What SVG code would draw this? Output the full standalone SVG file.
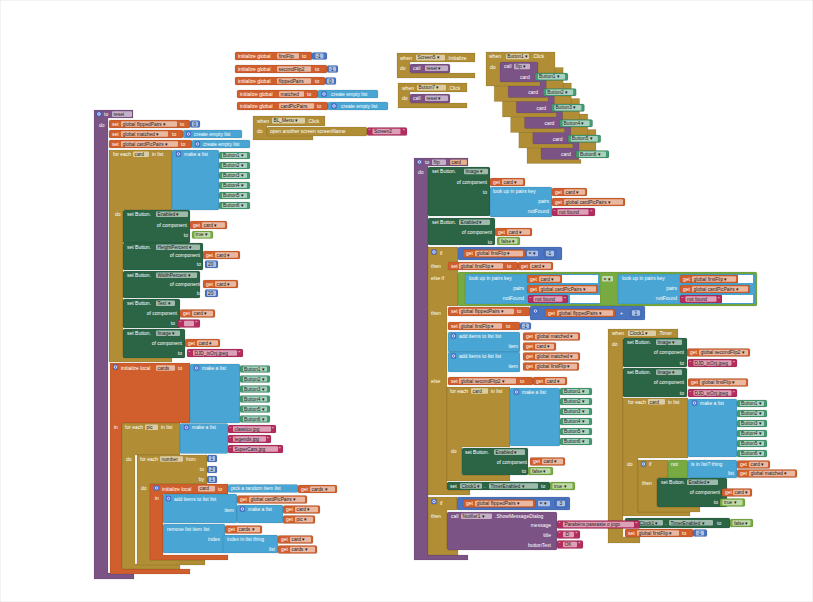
<svg xmlns="http://www.w3.org/2000/svg" width="813" height="602" viewBox="0 0 813 602">
<style>
text{font-family:"Liberation Sans",Arial,sans-serif;font-size:5px;fill:#fff}
.k{fill:#1a1a1a;font-size:4.8px}
rect,path{stroke:#000;stroke-opacity:.2;stroke-width:.5}
.p{fill:#7c5385}
.g{fill:#b18e35}
.o{fill:#d05f2d}
.l{fill:#49a6d4}
.d{fill:#2b6546}
.c{fill:#439970}
.n{fill:#77ab41}
.t{fill:#b32d5e}
.m{fill:#4a74c0}
.f{fill:#fff;fill-opacity:.55;stroke:none}
.wh{fill:#fff;stroke:none}
.e{text-anchor:end}
</style>
<defs>
<g id="gear"><rect x="0" y="0" width="5" height="5" rx="1" fill="#4d6fd6" stroke="none"/><circle cx="2.5" cy="2.5" r="1.3" fill="none" stroke="#fff" stroke-width=".7"/></g>
</defs>
<rect x="0" y="0" width="813" height="602" fill="#fff" stroke="none"/>
<g id="connectors"/>

<g id="global-firstFlip">
<rect class="o" x="235" y="52" width="77" height="8" rx="1.5"/>
<text x="238" y="57.8">initialize global</text>
<rect class="f" x="277" y="53.2" width="22" height="5.6" rx="1"/><text class="k" x="278.5" y="57.8">firstFlip</text>
<text x="302" y="57.8">to</text>
<rect class="m" x="312" y="52.5" width="15" height="7" rx="1.5"/><rect class="f" x="315.5" y="53.5" width="8" height="5" rx="1"/><text class="k" x="316.5" y="57.5">-1</text>
</g>
<g id="global-secondFlip2">
<rect class="o" x="235" y="65" width="92" height="8" rx="1.5"/>
<text x="238" y="70.8">initialize global</text>
<rect class="f" x="277" y="66.2" width="34" height="5.6" rx="1"/><text class="k" x="278.5" y="70.8">secondFlip2</text>
<text x="315" y="70.8">to</text>
<rect class="m" x="327" y="65.5" width="11" height="7" rx="1.5"/><rect class="f" x="329" y="66.5" width="7" height="5" rx="1"/><text class="k" x="329.5" y="70.5">-1</text>
</g>
<g id="global-flippedPairs">
<rect class="o" x="235" y="77" width="90" height="8" rx="1.5"/>
<text x="238" y="82.8">initialize global</text>
<rect class="f" x="277" y="78.2" width="34" height="5.6" rx="1"/><text class="k" x="278.5" y="82.8">flippedPairs</text>
<text x="315" y="82.8">to</text>
<rect class="m" x="325" y="77.5" width="11" height="7" rx="1.5"/><rect class="f" x="327" y="78.5" width="7" height="5" rx="1"/><text class="k" x="329" y="82.5">0</text>
</g>
<g id="global-matched">
<rect class="o" x="237" y="90" width="81" height="8" rx="1.5"/>
<text x="240" y="95.8">initialize global</text>
<rect class="f" x="279" y="91.2" width="25" height="5.6" rx="1"/><text class="k" x="280.5" y="95.8">matched</text>
<text x="307" y="95.8">to</text>
<rect class="l" x="318" y="90" width="60" height="8" rx="1.5"/><use href="#gear" x="321.5" y="91.5"/>
<text x="331" y="95.8">create empty list</text>
</g>
<g id="global-cardPicPairs">
<rect class="o" x="237" y="102" width="91" height="8" rx="1.5"/>
<text x="240" y="107.8">initialize global</text>
<rect class="f" x="279" y="103.2" width="35" height="5.6" rx="1"/><text class="k" x="280.5" y="107.8">cardPicPairs</text>
<text x="317" y="107.8">to</text>
<rect class="l" x="328" y="102" width="60" height="8" rx="1.5"/><use href="#gear" x="331.5" y="103.5"/>
<text x="341" y="107.8">create empty list</text>
</g>

<g id="bl-menu-click">
<path class="g" d="M253 116H325V126H267V135H313V140H253Z"/>
<text x="257" y="122.5">when</text>
<rect class="f" x="272" y="117.8" width="33" height="5.6" rx="1"/><text class="k" x="273.5" y="122.4">BL_Menu ▾</text>
<text x="307" y="122.5">.Click</text>
<text x="257" y="133">do</text>
<rect x="267" y="127" width="100" height="9" rx="1.5" fill="#b18e35" stroke="#e2c882" stroke-opacity="1"/>
<text x="270" y="133">open another screen  screenName</text>
<rect class="t" x="367" y="127.5" width="40" height="8" rx="1.5"/><text x="368.5" y="133.3">“</text>
<rect class="f" x="372.5" y="128.7" width="28" height="5.6" rx="1"/><text class="k" x="374" y="133.3">Screen2</text><text x="403" y="133.3">”</text>
</g>

<g id="screen5-initialize">
<path class="g" d="M397 53H475V62H410V73H475V78H397Z"/>
<text x="400" y="59.5">when</text>
<rect class="f" x="416" y="54.8" width="29" height="5.6" rx="1"/><text class="k" x="417.5" y="59.4">Screen5 ▾</text>
<text x="447" y="59.5">.Initialize</text>
<text x="400" y="70">do</text>
<rect class="p" x="410" y="64" width="40" height="9" rx="1.5"/>
<text x="413" y="70">call</text>
<rect class="f" x="425" y="65.5" width="23" height="5.6" rx="1"/><text class="k" x="426.5" y="70">reset ▾</text>
</g>

<g id="button7-click">
<path class="g" d="M398 83H467V92H410V103H467V108H398Z"/>
<text x="402" y="89.5">when</text>
<rect class="f" x="417" y="84.8" width="29" height="5.6" rx="1"/><text class="k" x="418.5" y="89.4">Button7 ▾</text>
<text x="448" y="89.5">.Click</text>
<text x="402" y="100">do</text>
<rect class="p" x="410" y="94" width="40" height="9" rx="1.5"/>
<text x="413" y="100">call</text>
<rect class="f" x="425" y="95.5" width="23" height="5.6" rx="1"/><text class="k" x="426.5" y="100">reset ▾</text>
</g>

<g id="button6-click" transform="translate(527,129.5)">
<path class="g" d="M0 0H69V25H52V30H54V34H0Z"/>
<text x="3" y="6.3">when</text><rect class="f" x="20" y="1.7" width="23" height="5.6" rx="1"/><text class="k" x="21.2" y="6.3">Button6 ▾</text><text x="46" y="6.3">.Click</text>
<text x="4" y="16.5">do</text>
<rect class="p" x="14" y="10" width="38" height="20" rx="1.5"/>
<text x="18" y="16.3">call</text><rect class="f" x="28" y="11.7" width="16" height="5.6" rx="1"/><text class="k" x="29.5" y="16.3">flip ▾</text>
<text x="34" y="26.8">card</text>
<rect class="c" x="49" y="21" width="33" height="7.5" rx="1.5"/><rect class="f" x="52" y="22" width="27" height="5.5" rx="1"/><text class="k" x="53" y="26.3">Button6 ▾</text>
</g>
<g id="button5-click" transform="translate(518.8,114)">
<path class="g" d="M0 0H69V25H52V30H54V34H0Z"/>
<text x="3" y="6.3">when</text><rect class="f" x="20" y="1.7" width="23" height="5.6" rx="1"/><text class="k" x="21.2" y="6.3">Button5 ▾</text><text x="46" y="6.3">.Click</text>
<text x="4" y="16.5">do</text>
<rect class="p" x="14" y="10" width="38" height="20" rx="1.5"/>
<text x="18" y="16.3">call</text><rect class="f" x="28" y="11.7" width="16" height="5.6" rx="1"/><text class="k" x="29.5" y="16.3">flip ▾</text>
<text x="34" y="26.8">card</text>
<rect class="c" x="49" y="21" width="33" height="7.5" rx="1.5"/><rect class="f" x="52" y="22" width="27" height="5.5" rx="1"/><text class="k" x="53" y="26.3">Button5 ▾</text>
</g>
<g id="button4-click" transform="translate(510.6,98.5)">
<path class="g" d="M0 0H69V25H52V30H54V34H0Z"/>
<text x="3" y="6.3">when</text><rect class="f" x="20" y="1.7" width="23" height="5.6" rx="1"/><text class="k" x="21.2" y="6.3">Button4 ▾</text><text x="46" y="6.3">.Click</text>
<text x="4" y="16.5">do</text>
<rect class="p" x="14" y="10" width="38" height="20" rx="1.5"/>
<text x="18" y="16.3">call</text><rect class="f" x="28" y="11.7" width="16" height="5.6" rx="1"/><text class="k" x="29.5" y="16.3">flip ▾</text>
<text x="34" y="26.8">card</text>
<rect class="c" x="49" y="21" width="33" height="7.5" rx="1.5"/><rect class="f" x="52" y="22" width="27" height="5.5" rx="1"/><text class="k" x="53" y="26.3">Button4 ▾</text>
</g>
<g id="button3-click" transform="translate(502.4,83)">
<path class="g" d="M0 0H69V25H52V30H54V34H0Z"/>
<text x="3" y="6.3">when</text><rect class="f" x="20" y="1.7" width="23" height="5.6" rx="1"/><text class="k" x="21.2" y="6.3">Button3 ▾</text><text x="46" y="6.3">.Click</text>
<text x="4" y="16.5">do</text>
<rect class="p" x="14" y="10" width="38" height="20" rx="1.5"/>
<text x="18" y="16.3">call</text><rect class="f" x="28" y="11.7" width="16" height="5.6" rx="1"/><text class="k" x="29.5" y="16.3">flip ▾</text>
<text x="34" y="26.8">card</text>
<rect class="c" x="49" y="21" width="33" height="7.5" rx="1.5"/><rect class="f" x="52" y="22" width="27" height="5.5" rx="1"/><text class="k" x="53" y="26.3">Button3 ▾</text>
</g>
<g id="button2-click" transform="translate(494.2,67.5)">
<path class="g" d="M0 0H69V25H52V30H54V34H0Z"/>
<text x="3" y="6.3">when</text><rect class="f" x="20" y="1.7" width="23" height="5.6" rx="1"/><text class="k" x="21.2" y="6.3">Button2 ▾</text><text x="46" y="6.3">.Click</text>
<text x="4" y="16.5">do</text>
<rect class="p" x="14" y="10" width="38" height="20" rx="1.5"/>
<text x="18" y="16.3">call</text><rect class="f" x="28" y="11.7" width="16" height="5.6" rx="1"/><text class="k" x="29.5" y="16.3">flip ▾</text>
<text x="34" y="26.8">card</text>
<rect class="c" x="49" y="21" width="33" height="7.5" rx="1.5"/><rect class="f" x="52" y="22" width="27" height="5.5" rx="1"/><text class="k" x="53" y="26.3">Button2 ▾</text>
</g>
<g id="button1-click" transform="translate(486,52)">
<path class="g" d="M0 0H69V25H52V30H54V34H0Z"/>
<text x="3" y="6.3">when</text><rect class="f" x="20" y="1.7" width="23" height="5.6" rx="1"/><text class="k" x="21.2" y="6.3">Button1 ▾</text><text x="46" y="6.3">.Click</text>
<text x="4" y="16.5">do</text>
<rect class="p" x="14" y="10" width="38" height="20" rx="1.5"/>
<text x="18" y="16.3">call</text><rect class="f" x="28" y="11.7" width="16" height="5.6" rx="1"/><text class="k" x="29.5" y="16.3">flip ▾</text>
<text x="34" y="26.8">card</text>
<rect class="c" x="49" y="21" width="33" height="7.5" rx="1.5"/><rect class="f" x="52" y="22" width="27" height="5.5" rx="1"/><text class="k" x="53" y="26.3">Button1 ▾</text>
</g>

<g id="proc-reset">
<path class="p" d="M94 110H133V118H108V573H134V579H94Z"/>
<use href="#gear" x="96.5" y="111.5"/>
<text x="104" y="116">to</text>
<rect class="f" x="112" y="111.3" width="20" height="5.6" rx="1"/><text class="k" x="113.5" y="115.9">reset</text>
<text x="99" y="127">do</text>
<rect class="o" x="109" y="120" width="81" height="8" rx="1.5"/>
<text x="112" y="125.8">set</text><rect class="f" x="121" y="121.2" width="56" height="5.6" rx="1"/><text class="k" x="122.5" y="125.8">global flippedPairs ▾</text><text x="180" y="125.8">to</text>
<rect class="m" x="190" y="120.5" width="10" height="7" rx="1.5"/><rect class="f" x="192" y="121.5" width="6" height="5" rx="1"/><text class="k" x="193.5" y="125.5">0</text>
<rect class="o" x="109" y="130" width="74" height="8" rx="1.5"/>
<text x="112" y="135.8">set</text><rect class="f" x="121" y="131.2" width="47" height="5.6" rx="1"/><text class="k" x="122.5" y="135.8">global matched ▾</text><text x="172" y="135.8">to</text>
<rect class="l" x="183" y="130" width="59" height="8" rx="1.5"/><use href="#gear" x="186" y="131.5"/><text x="194" y="135.8">create empty list</text>
<rect class="o" x="109" y="140" width="83" height="8" rx="1.5"/>
<text x="112" y="145.8">set</text><rect class="f" x="121" y="141.2" width="57" height="5.6" rx="1"/><text class="k" x="122.5" y="145.8">global cardPicPairs ▾</text><text x="181" y="145.8">to</text>
<rect class="l" x="192" y="140" width="58" height="8" rx="1.5"/><use href="#gear" x="195" y="141.5"/><text x="203" y="145.8">create empty list</text>
<path class="g" d="M109 150H172V210H123V356H172V362H109Z"/>
<text x="113" y="156">for each</text><rect class="f" x="133" y="151.5" width="16" height="5.6" rx="1"/><text class="k" x="134.5" y="156">card</text><text x="152" y="156">in list</text>
<rect class="l" x="172" y="150" width="47" height="60" rx="1.5"/><use href="#gear" x="176" y="151.5"/><text x="184" y="156">make a list</text>
<rect class="c" x="219" y="152" width="31" height="7" rx="1.5"/><rect class="f" x="222" y="153" width="25" height="5" rx="1"/><text class="k" x="223" y="157">Button1 ▾</text>
<rect class="c" x="219" y="162" width="31" height="7" rx="1.5"/><rect class="f" x="222" y="163" width="25" height="5" rx="1"/><text class="k" x="223" y="167">Button2 ▾</text>
<rect class="c" x="219" y="172" width="31" height="7" rx="1.5"/><rect class="f" x="222" y="173" width="25" height="5" rx="1"/><text class="k" x="223" y="177">Button3 ▾</text>
<rect class="c" x="219" y="182" width="31" height="7" rx="1.5"/><rect class="f" x="222" y="183" width="25" height="5" rx="1"/><text class="k" x="223" y="187">Button4 ▾</text>
<rect class="c" x="219" y="192" width="31" height="7" rx="1.5"/><rect class="f" x="222" y="193" width="25" height="5" rx="1"/><text class="k" x="223" y="197">Button5 ▾</text>
<rect class="c" x="219" y="202" width="31" height="7" rx="1.5"/><rect class="f" x="222" y="203" width="25" height="5" rx="1"/><text class="k" x="223" y="207">Button6 ▾</text>
<text x="115" y="216">do</text>
<rect class="d" x="123" y="210" width="67" height="33" rx="1.5"/>
<text x="127" y="216">set Button.</text><rect class="f" x="156" y="211.5" width="32" height="5.6" rx="1"/><text class="k" x="157.5" y="216">Enabled ▾</text>
<text class="e" x="187" y="226.5">of component</text>
<rect class="o" x="190" y="221" width="37" height="8" rx="1.5"/><text x="193" y="226.8">get</text><rect class="f" x="202" y="222.2" width="23" height="5.6" rx="1"/><text class="k" x="203.5" y="226.8">card ▾</text>
<text class="e" x="188" y="236.5">to</text>
<rect class="n" x="192" y="231" width="21" height="7.5" rx="1.5"/><rect class="f" x="194.5" y="232" width="16" height="5.5" rx="1"/><text class="k" x="195.5" y="236.3">true ▾</text>
<rect class="d" x="123" y="243" width="80" height="27" rx="1.5"/>
<text x="127" y="249">set Button.</text><rect class="f" x="156" y="244.5" width="44" height="5.6" rx="1"/><text class="k" x="157.5" y="249">HeightPercent ▾</text>
<text class="e" x="200" y="256.8">of component</text>
<rect class="o" x="203" y="251" width="37" height="8" rx="1.5"/><text x="206" y="256.8">get</text><rect class="f" x="215" y="252.2" width="23" height="5.6" rx="1"/><text class="k" x="216.5" y="256.8">card ▾</text>
<text class="e" x="201" y="266.3">to</text>
<rect class="m" x="205" y="260.5" width="13" height="7.5" rx="1.5"/><rect class="f" x="207" y="261.5" width="9" height="5.5" rx="1"/><text class="k" x="208" y="265.8">20</text>
<rect class="d" x="123" y="271" width="77" height="27" rx="1.5"/>
<text x="127" y="277">set Button.</text><rect class="f" x="156" y="272.5" width="41" height="5.6" rx="1"/><text class="k" x="157.5" y="277">WidthPercent ▾</text>
<text class="e" x="200" y="285.8">of component</text>
<rect class="o" x="203" y="280" width="35" height="8" rx="1.5"/><text x="206" y="285.8">get</text><rect class="f" x="215" y="281.2" width="21" height="5.6" rx="1"/><text class="k" x="216.5" y="285.8">card ▾</text>
<text class="e" x="201" y="295.3">to</text>
<rect class="m" x="205" y="289.5" width="13" height="7.5" rx="1.5"/><rect class="f" x="207" y="290.5" width="9" height="5.5" rx="1"/><text class="k" x="208" y="294.8">20</text>
<rect class="d" x="123" y="299" width="57" height="29" rx="1.5"/>
<text x="127" y="305">set Button.</text><rect class="f" x="156" y="300.5" width="19" height="5.6" rx="1"/><text class="k" x="157.5" y="305">Text ▾</text>
<text class="e" x="177" y="315.3">of component</text>
<rect class="o" x="180" y="309.5" width="35" height="8" rx="1.5"/><text x="183" y="315.3">get</text><rect class="f" x="192" y="310.7" width="21" height="5.6" rx="1"/><text class="k" x="193.5" y="315.3">card ▾</text>
<text class="e" x="175" y="325.3">to</text>
<rect class="t" x="178" y="319.5" width="22" height="8" rx="1.5"/><text x="179.5" y="325.3">“</text><rect class="f" x="184" y="320.7" width="10" height="5.6" rx="1"/><text x="195.5" y="325.3">”</text>
<rect class="d" x="123" y="329" width="62" height="29" rx="1.5"/>
<text x="127" y="335">set Button.</text><rect class="f" x="156" y="330.5" width="24" height="5.6" rx="1"/><text class="k" x="157.5" y="335">Image ▾</text>
<text class="e" x="182" y="344.8">of component</text>
<rect class="o" x="185" y="339" width="35" height="8" rx="1.5"/><text x="188" y="344.8">get</text><rect class="f" x="197" y="340.2" width="21" height="5.6" rx="1"/><text class="k" x="198.5" y="344.8">card ▾</text>
<text class="e" x="182" y="354.8">to</text>
<rect class="t" x="187" y="349" width="56" height="8" rx="1.5"/><text x="188.5" y="354.8">“</text><rect class="f" x="193" y="350.2" width="44" height="5.6" rx="1"/><text class="k" x="194.5" y="354.8">DJD_ixOnj.jpeg</text><text x="238.5" y="354.8">”</text>
<path class="o" d="M110 363H190V423H122V569H190V574H110Z"/>
<use href="#gear" x="113" y="364.5"/>
<text x="121" y="369.8">initialize local</text><rect class="f" x="156" y="365.2" width="19" height="5.6" rx="1"/><text class="k" x="157.5" y="369.8">cards</text><text x="178" y="369.8">to</text>
<rect class="l" x="190" y="364" width="50" height="59" rx="1.5"/><use href="#gear" x="194" y="365.5"/><text x="202" y="369.8">make a list</text>
<rect class="c" x="240" y="365.5" width="30" height="7" rx="1.5"/><rect class="f" x="243" y="366.5" width="24" height="5" rx="1"/><text class="k" x="244" y="370.5">Button1 ▾</text>
<rect class="c" x="240" y="375.5" width="30" height="7" rx="1.5"/><rect class="f" x="243" y="376.5" width="24" height="5" rx="1"/><text class="k" x="244" y="380.5">Button2 ▾</text>
<rect class="c" x="240" y="385.5" width="30" height="7" rx="1.5"/><rect class="f" x="243" y="386.5" width="24" height="5" rx="1"/><text class="k" x="244" y="390.5">Button3 ▾</text>
<rect class="c" x="240" y="395.5" width="30" height="7" rx="1.5"/><rect class="f" x="243" y="396.5" width="24" height="5" rx="1"/><text class="k" x="244" y="400.5">Button4 ▾</text>
<rect class="c" x="240" y="405.5" width="30" height="7" rx="1.5"/><rect class="f" x="243" y="406.5" width="24" height="5" rx="1"/><text class="k" x="244" y="410.5">Button5 ▾</text>
<rect class="c" x="240" y="415.5" width="30" height="7" rx="1.5"/><rect class="f" x="243" y="416.5" width="24" height="5" rx="1"/><text class="k" x="244" y="420.5">Button6 ▾</text>
<text x="114" y="429">in</text>
<path class="g" d="M122 423H180V455H135V564H180V569H122Z"/>
<text x="125" y="429">for each</text><rect class="f" x="145" y="424.5" width="13" height="5.6" rx="1"/><text class="k" x="146.5" y="429">pic</text><text x="161" y="429">in list</text>
<rect class="l" x="180" y="423.5" width="48" height="30" rx="1.5"/><use href="#gear" x="184" y="425"/><text x="192" y="429.3">make a list</text>
<rect class="t" x="228" y="425" width="48" height="8" rx="1.5"/><text x="229.5" y="430.8">“</text><rect class="f" x="233" y="426.2" width="38" height="5.6" rx="1"/><text class="k" x="234.5" y="430.8">classico.jpg</text><text x="272" y="430.8">”</text>
<rect class="t" x="228" y="435" width="43" height="8" rx="1.5"/><text x="229.5" y="440.8">“</text><rect class="f" x="233" y="436.2" width="33" height="5.6" rx="1"/><text class="k" x="234.5" y="440.8">legends.jpg</text><text x="267" y="440.8">”</text>
<rect class="t" x="228" y="445" width="55" height="8" rx="1.5"/><text x="229.5" y="450.8">“</text><rect class="f" x="233" y="446.2" width="45" height="5.6" rx="1"/><text class="k" x="234.5" y="450.8">SuperCars.jpg</text><text x="279" y="450.8">”</text>
<text x="126" y="461">do</text>
<path class="g" d="M137 455H207V484H150V560H205V565H137Z"/>
<text x="140" y="460.8">for each</text><rect class="f" x="160" y="456.2" width="23" height="5.6" rx="1"/><text class="k" x="161.5" y="460.8">number</text><text x="186" y="460.8">from</text>
<rect class="m" x="207" y="455" width="10" height="7" rx="1.5"/><rect class="f" x="209" y="456" width="6" height="5" rx="1"/><text class="k" x="210.5" y="460">1</text>
<text class="e" x="204" y="470.8">to</text>
<rect class="m" x="207" y="466" width="10" height="7" rx="1.5"/><rect class="f" x="209" y="467" width="6" height="5" rx="1"/><text class="k" x="210.5" y="471">2</text>
<text class="e" x="204" y="480.8">by</text>
<rect class="m" x="207" y="476" width="10" height="7" rx="1.5"/><rect class="f" x="209" y="477" width="6" height="5" rx="1"/><text class="k" x="210.5" y="481">1</text>
<text x="141" y="490">do</text>
<path class="o" d="M150 484H228V494H163V555H228V560H150Z"/>
<use href="#gear" x="154" y="485.5"/>
<text x="162" y="490.5">initialize local</text><rect class="f" x="198" y="485.8" width="17" height="5.6" rx="1"/><text class="k" x="199.5" y="490.4">card</text><text x="218" y="490.5">to</text>
<rect class="l" x="228" y="484.5" width="70" height="8" rx="1.5"/><text x="231" y="490.3">pick a random item  list</text>
<rect class="o" x="298" y="485" width="39" height="8" rx="1.5"/><text x="301" y="490.8">get</text><rect class="f" x="310" y="486.2" width="25" height="5.6" rx="1"/><text class="k" x="311.5" y="490.8">cards ▾</text>
<text x="155" y="500">in</text>
<rect class="l" x="163" y="494" width="74" height="29" rx="1.5"/><use href="#gear" x="166" y="496"/>
<text x="174" y="500.8">add items to list   list</text>
<rect class="o" x="237" y="495.5" width="70" height="8" rx="1.5"/><text x="240" y="501.3">get</text><rect class="f" x="249" y="496.7" width="56" height="5.6" rx="1"/><text class="k" x="250.5" y="501.3">global cardPicPairs ▾</text>
<text class="e" x="234" y="511.5">item</text>
<rect class="l" x="237" y="505" width="46" height="18" rx="1.5"/><use href="#gear" x="240" y="506.5"/><text x="248" y="511">make a list</text>
<rect class="o" x="283" y="505.5" width="37" height="8" rx="1.5"/><text x="286" y="511.3">get</text><rect class="f" x="295" y="506.7" width="23" height="5.6" rx="1"/><text class="k" x="296.5" y="511.3">card ▾</text>
<rect class="o" x="283" y="515.5" width="32" height="8" rx="1.5"/><text x="286" y="521.3">get</text><rect class="f" x="295" y="516.7" width="18" height="5.6" rx="1"/><text class="k" x="296.5" y="521.3">pic ▾</text>
<rect class="l" x="163" y="524" width="62" height="29" rx="1.5"/>
<text x="167" y="530.5">remove list item   list</text>
<rect class="o" x="225" y="525.5" width="37" height="8" rx="1.5"/><text x="228" y="531.3">get</text><rect class="f" x="237" y="526.7" width="23" height="5.6" rx="1"/><text class="k" x="238.5" y="531.3">cards ▾</text>
<text class="e" x="220" y="541">index</text>
<rect class="l" x="223" y="535" width="55" height="18" rx="1.5"/>
<text x="227" y="541">index in list  thing</text><text class="e" x="275" y="551">list</text>
<rect class="o" x="278" y="535.5" width="35" height="8" rx="1.5"/><text x="281" y="541.3">get</text><rect class="f" x="290" y="536.7" width="21" height="5.6" rx="1"/><text class="k" x="291.5" y="541.3">card ▾</text>
<rect class="o" x="278" y="545.5" width="39" height="8" rx="1.5"/><text x="281" y="551.3">get</text><rect class="f" x="290" y="546.7" width="25" height="5.6" rx="1"/><text class="k" x="291.5" y="551.3">cards ▾</text>
</g>

<g id="clock1-timer">
<path class="g" d="M608 329H678V338H623V537H640V543H608Z"/>
<text x="612" y="335">when</text><rect class="f" x="628" y="330.4" width="28" height="5.6" rx="1"/><text class="k" x="629.5" y="335">Clock1 ▾</text><text x="658" y="335">.Timer</text>
<text x="612" y="346">do</text>
<rect class="d" x="623" y="338" width="64" height="29" rx="1.5"/>
<text x="627" y="344">set Button.</text><rect class="f" x="656" y="339.5" width="26" height="5.6" rx="1"/><text class="k" x="657.5" y="344">Image ▾</text>
<text class="e" x="684" y="354.3">of component</text>
<rect class="o" x="687" y="348.5" width="63" height="8" rx="1.5"/><text x="690" y="354.3">get</text><rect class="f" x="699" y="349.7" width="49" height="5.6" rx="1"/><text class="k" x="700.5" y="354.3">global secondFlip2 ▾</text>
<text class="e" x="684" y="364.5">to</text>
<rect class="t" x="688" y="359" width="49" height="8" rx="1.5"/><text x="689.5" y="364.8">“</text><rect class="f" x="693.5" y="360.2" width="38" height="5.6" rx="1"/><text class="k" x="694.5" y="364.8">DJD_ixOnj.jpeg</text><text x="733" y="364.8">”</text>
<rect class="d" x="623" y="368" width="64" height="29" rx="1.5"/>
<text x="627" y="374">set Button.</text><rect class="f" x="656" y="369.5" width="26" height="5.6" rx="1"/><text class="k" x="657.5" y="374">Image ▾</text>
<text class="e" x="684" y="384.3">of component</text>
<rect class="o" x="688" y="378.5" width="60" height="8" rx="1.5"/><text x="691" y="384.3">get</text><rect class="f" x="700" y="379.7" width="46" height="5.6" rx="1"/><text class="k" x="701.5" y="384.3">global firstFlip ▾</text>
<text class="e" x="684" y="394.5">to</text>
<rect class="t" x="688" y="389" width="49" height="8" rx="1.5"/><text x="689.5" y="394.8">“</text><rect class="f" x="693.5" y="390.2" width="38" height="5.6" rx="1"/><text class="k" x="694.5" y="394.8">DJD_ixOnj.jpeg</text><text x="733" y="394.8">”</text>
<path class="g" d="M623 398H688V458H638V512H690V516H623Z"/>
<text x="628" y="403.5">for each</text><rect class="f" x="648" y="399" width="17" height="5.6" rx="1"/><text class="k" x="649.5" y="403.5">card</text><text x="668" y="403.5">in list</text>
<rect class="l" x="688" y="399" width="49" height="58" rx="1.5"/><use href="#gear" x="692" y="400.5"/><text x="700" y="404.5">make a list</text>
<rect class="c" x="737" y="400" width="30" height="7" rx="1.5"/><rect class="f" x="740" y="401" width="24" height="5" rx="1"/><text class="k" x="741" y="405">Button1 ▾</text>
<rect class="c" x="737" y="410" width="30" height="7" rx="1.5"/><rect class="f" x="740" y="411" width="24" height="5" rx="1"/><text class="k" x="741" y="415">Button2 ▾</text>
<rect class="c" x="737" y="420" width="30" height="7" rx="1.5"/><rect class="f" x="740" y="421" width="24" height="5" rx="1"/><text class="k" x="741" y="425">Button3 ▾</text>
<rect class="c" x="737" y="430" width="30" height="7" rx="1.5"/><rect class="f" x="740" y="431" width="24" height="5" rx="1"/><text class="k" x="741" y="435">Button4 ▾</text>
<rect class="c" x="737" y="440" width="30" height="7" rx="1.5"/><rect class="f" x="740" y="441" width="24" height="5" rx="1"/><text class="k" x="741" y="445">Button5 ▾</text>
<rect class="c" x="737" y="450" width="30" height="7" rx="1.5"/><rect class="f" x="740" y="451" width="24" height="5" rx="1"/><text class="k" x="741" y="455">Button6 ▾</text>
<text x="627" y="466">do</text>
<path class="g" d="M638 460H668V478H657V507H700V512H638Z"/>
<use href="#gear" x="641" y="461.5"/><text x="649" y="466">if</text><text x="642" y="485">then</text>
<rect class="n" x="668" y="460" width="20" height="18.5" rx="1.5"/><text x="671" y="466">not</text>
<rect class="l" x="688" y="460" width="49" height="18" rx="1.5"/><text x="691" y="466">is in list?  thing</text><text class="e" x="734" y="475">list</text>
<rect class="o" x="737" y="460.5" width="33" height="8" rx="1.5"/><text x="740" y="466.3">get</text><rect class="f" x="749" y="461.7" width="19" height="5.6" rx="1"/><text class="k" x="750.5" y="466.3">card ▾</text>
<rect class="o" x="737" y="469.5" width="60" height="8" rx="1.5"/><text x="740" y="475.3">get</text><rect class="f" x="749" y="470.7" width="46" height="5.6" rx="1"/><text class="k" x="750.5" y="475.3">global matched ▾</text>
<rect class="d" x="657" y="478" width="70" height="29" rx="1.5"/>
<text x="661" y="484">set Button.</text><rect class="f" x="687" y="479.5" width="31" height="5.6" rx="1"/><text class="k" x="688.5" y="484">Enabled ▾</text>
<text class="e" x="720" y="494">of component</text>
<rect class="o" x="722" y="488.5" width="30" height="8" rx="1.5"/><text x="725" y="494.3">get</text><rect class="f" x="733" y="489.7" width="17" height="5.6" rx="1"/><text class="k" x="734.5" y="494.3">card ▾</text>
<text class="e" x="718" y="504">to</text>
<rect class="n" x="720" y="498.5" width="25" height="8" rx="1.5"/><rect class="f" x="722.5" y="499.7" width="20" height="5.6" rx="1"/><text class="k" x="724" y="504.2">true ▾</text>
<rect class="d" x="625" y="518" width="105" height="10" rx="1.5"/>
<text x="628" y="524.5">set</text><rect class="f" x="638" y="520" width="25" height="5.6" rx="1"/><text class="k" x="639.5" y="524.5">Clock1 ▾</text><text x="665" y="524.5">.</text>
<rect class="f" x="669" y="520" width="44" height="5.6" rx="1"/><text class="k" x="670.5" y="524.5">TimerEnabled ▾</text><text x="717" y="524.5">to</text>
<rect class="n" x="730" y="519" width="23" height="8" rx="1.5"/><rect class="f" x="732.5" y="520.2" width="18" height="5.6" rx="1"/><text class="k" x="734" y="524.7">false ▾</text>
<rect class="o" x="625" y="529" width="68" height="8" rx="1.5"/>
<text x="628" y="534.8">set</text><rect class="f" x="637" y="530.2" width="42" height="5.6" rx="1"/><text class="k" x="638.5" y="534.8">global firstFlip ▾</text><text x="682" y="534.8">to</text>
<rect class="m" x="693" y="529.5" width="14" height="7" rx="1.5"/><rect class="f" x="696" y="530.5" width="8" height="5" rx="1"/><text class="k" x="697" y="534.5">-1</text>
</g>

<g id="proc-flip">
<path class="p" d="M414 158H468V166H428V555H468V560H414Z"/>
<use href="#gear" x="417" y="159.5"/><text x="425" y="164">to</text>
<rect class="f" x="432" y="159.4" width="14" height="5.6" rx="1"/><text class="k" x="433.5" y="164">flip</text>
<rect x="450" y="159.4" width="17" height="5.6" rx="1" fill="#e9b08f" stroke="none"/><text class="k" x="451.5" y="164">card</text>
<text x="418" y="174">do</text>
<rect class="d" x="428" y="167" width="62" height="49" rx="1.5"/>
<text x="432" y="173.3">set Button.</text><rect class="f" x="464" y="168.7" width="24" height="5.6" rx="1"/><text class="k" x="465.5" y="173.3">Image ▾</text>
<text class="e" x="487" y="183.8">of component</text>
<rect class="o" x="490" y="178" width="35" height="8" rx="1.5"/><text x="493" y="183.8">get</text><rect class="f" x="502" y="179.2" width="21" height="5.6" rx="1"/><text class="k" x="503.5" y="183.8">card ▾</text>
<text class="e" x="487" y="193.8">to</text>
<rect class="l" x="490" y="187" width="62" height="30" rx="1.5"/>
<text x="493" y="193">look up in pairs  key</text><text class="e" x="549" y="203">pairs</text><text class="e" x="549" y="213">notFound</text>
<rect class="o" x="552" y="188" width="35" height="8" rx="1.5"/><text x="555" y="193.8">get</text><rect class="f" x="564" y="189.2" width="21" height="5.6" rx="1"/><text class="k" x="565.5" y="193.8">card ▾</text>
<rect class="o" x="552" y="198" width="73" height="8" rx="1.5"/><text x="555" y="203.8">get</text><rect class="f" x="564" y="199.2" width="59" height="5.6" rx="1"/><text class="k" x="565.5" y="203.8">global cardPicPairs ▾</text>
<rect class="t" x="552" y="208" width="43" height="8" rx="1.5"/><text x="553.5" y="213.8">“</text><rect class="f" x="557.5" y="209.2" width="31" height="5.6" rx="1"/><text class="k" x="559" y="213.8">not found</text><text x="590.5" y="213.8">”</text>
<rect class="d" x="428" y="218" width="67" height="27" rx="1.5"/>
<text x="432" y="224">set Button.</text><rect class="f" x="459" y="219.5" width="31" height="5.6" rx="1"/><text class="k" x="460.5" y="224">Enabled ▾</text>
<text class="e" x="492" y="233.8">of component</text>
<rect class="o" x="495" y="228" width="37" height="8" rx="1.5"/><text x="498" y="233.8">get</text><rect class="f" x="507" y="229.2" width="23" height="5.6" rx="1"/><text class="k" x="508.5" y="233.8">card ▾</text>
<text class="e" x="492" y="243.5">to</text>
<rect class="n" x="497" y="237" width="23" height="8" rx="1.5"/><rect class="f" x="499.5" y="238.2" width="18" height="5.6" rx="1"/><text class="k" x="501" y="242.7">false ▾</text>
<path class="g" d="M428 247H458V306H447V490H470V495H428Z"/>
<use href="#gear" x="431.5" y="249.5"/><text x="440" y="255.3">if</text>
<rect class="m" x="458" y="247" width="104" height="13" rx="1.5"/>
<rect class="o" x="463" y="249.5" width="62" height="8" rx="1.5"/><text x="466" y="255.3">get</text><rect class="f" x="475" y="250.7" width="48" height="5.6" rx="1"/><text class="k" x="476.5" y="255.3">global firstFlip ▾</text>
<rect class="f" x="527" y="250.7" width="11" height="5.6" rx="1"/><text class="k" x="528.5" y="255.3">= ▾</text>
<rect class="m" x="544" y="249.5" width="12" height="8" rx="1.5"/><rect class="f" x="546" y="250.7" width="8" height="5.6" rx="1"/><text class="k" x="547" y="255.3">-1</text>
<text x="431" y="268">then</text>
<rect class="o" x="448" y="262" width="70" height="8" rx="1.5"/>
<text x="451" y="267.8">set</text><rect class="f" x="459" y="263.2" width="44" height="5.6" rx="1"/><text class="k" x="460.5" y="267.8">global firstFlip ▾</text><text x="507" y="267.8">to</text>
<rect class="o" x="518" y="262" width="35" height="8" rx="1.5"/><text x="521" y="267.8">get</text><rect class="f" x="530" y="263.2" width="21" height="5.6" rx="1"/><text class="k" x="531.5" y="267.8">card ▾</text>
<text x="431" y="280">else if</text>
<rect class="n" x="458" y="272" width="299" height="34" rx="1.5"/>
<rect class="l" x="465" y="274" width="135" height="30" rx="1.5"/>
<text x="469" y="280">look up in pairs  key</text><text class="e" x="524" y="290">pairs</text><text class="e" x="524" y="300">notFound</text>
<rect class="o" x="527" y="275" width="35" height="8" rx="1.5"/><text x="530" y="280.8">get</text><rect class="f" x="539" y="276.2" width="21" height="5.6" rx="1"/><text class="k" x="540.5" y="280.8">card ▾</text>
<rect class="wh" x="562" y="275" width="36" height="8"/>
<rect class="o" x="527" y="285" width="71" height="8" rx="1.5"/><text x="530" y="290.8">get</text><rect class="f" x="539" y="286.2" width="57" height="5.6" rx="1"/><text class="k" x="540.5" y="290.8">global cardPicPairs ▾</text>
<rect class="t" x="528" y="295" width="40" height="8" rx="1.5"/><text x="529.5" y="300.8">“</text><rect class="f" x="533.5" y="296.2" width="29" height="5.6" rx="1"/><text class="k" x="535" y="300.8">not found</text><text x="564" y="300.8">”</text>
<rect class="wh" x="570" y="295" width="30" height="8"/>
<rect class="f" x="602" y="276" width="11" height="5.6" rx="1"/><text class="k" x="603.5" y="280.6">= ▾</text>
<rect class="l" x="618" y="274" width="137" height="30" rx="1.5"/>
<text x="622" y="280">look up in pairs  key</text><text class="e" x="677" y="290">pairs</text><text class="e" x="677" y="300">notFound</text>
<rect class="o" x="680" y="275" width="58" height="8" rx="1.5"/><text x="683" y="280.8">get</text><rect class="f" x="692" y="276.2" width="44" height="5.6" rx="1"/><text class="k" x="693.5" y="280.8">global firstFlip ▾</text>
<rect class="wh" x="738" y="275" width="15" height="8"/>
<rect class="o" x="680" y="285" width="70" height="8" rx="1.5"/><text x="683" y="290.8">get</text><rect class="f" x="692" y="286.2" width="56" height="5.6" rx="1"/><text class="k" x="693.5" y="290.8">global cardPicPairs ▾</text>
<rect class="t" x="680" y="295" width="42" height="8" rx="1.5"/><text x="681.5" y="300.8">“</text><rect class="f" x="685.5" y="296.2" width="31" height="5.6" rx="1"/><text class="k" x="687" y="300.8">not found</text><text x="718" y="300.8">”</text>
<rect class="wh" x="722" y="295" width="31" height="8"/>
<text x="431" y="315">then</text>
<rect class="o" x="448" y="307" width="82" height="9" rx="1.5"/>
<text x="451" y="313.3">set</text><rect class="f" x="459" y="308.7" width="55" height="5.6" rx="1"/><text class="k" x="460.5" y="313.3">global flippedPairs ▾</text><text x="517" y="313.3">to</text>
<rect class="m" x="530" y="306" width="115" height="14" rx="1.5"/><use href="#gear" x="533" y="308.5"/>
<rect class="o" x="545" y="309" width="70" height="8" rx="1.5"/><text x="548" y="314.8">get</text><rect class="f" x="557" y="310.2" width="56" height="5.6" rx="1"/><text class="k" x="558.5" y="314.8">global flippedPairs ▾</text>
<text x="620" y="315">+</text>
<rect class="m" x="630" y="309" width="12" height="8" rx="1.5"/><rect class="f" x="632" y="310.2" width="8" height="5.6" rx="1"/><text class="k" x="634.5" y="314.8">1</text>
<rect class="o" x="448" y="322" width="72" height="8" rx="1.5"/>
<text x="451" y="327.8">set</text><rect class="f" x="459" y="323.2" width="43" height="5.6" rx="1"/><text class="k" x="460.5" y="327.8">global firstFlip ▾</text><text x="506" y="327.8">to</text>
<rect class="m" x="520" y="322.5" width="11" height="7" rx="1.5"/><rect class="f" x="522" y="323.5" width="7" height="5" rx="1"/><text class="k" x="522.7" y="327.5">-1</text>
<rect class="l" x="448" y="332" width="72" height="20" rx="1.5"/><use href="#gear" x="451" y="333.5"/>
<text x="459" y="338">add items to list   list</text><text class="e" x="518" y="348">item</text>
<rect class="o" x="523" y="332.5" width="57" height="8" rx="1.5"/><text x="526" y="338.3">get</text><rect class="f" x="535" y="333.7" width="43" height="5.6" rx="1"/><text class="k" x="536.5" y="338.3">global matched ▾</text>
<rect class="o" x="523" y="342.5" width="33" height="8" rx="1.5"/><text x="526" y="348.3">get</text><rect class="f" x="535" y="343.7" width="19" height="5.6" rx="1"/><text class="k" x="536.5" y="348.3">card ▾</text>
<rect class="l" x="448" y="352" width="72" height="20" rx="1.5"/><use href="#gear" x="451" y="353.5"/>
<text x="459" y="358">add items to list   list</text><text class="e" x="518" y="368">item</text>
<rect class="o" x="523" y="352.5" width="57" height="8" rx="1.5"/><text x="526" y="358.3">get</text><rect class="f" x="535" y="353.7" width="43" height="5.6" rx="1"/><text class="k" x="536.5" y="358.3">global matched ▾</text>
<rect class="o" x="523" y="362.5" width="56" height="8" rx="1.5"/><text x="526" y="368.3">get</text><rect class="f" x="535" y="363.7" width="42" height="5.6" rx="1"/><text class="k" x="536.5" y="368.3">global firstFlip ▾</text>
<text x="431" y="383">else</text>
<rect class="o" x="448" y="377" width="85" height="8" rx="1.5"/>
<text x="451" y="382.8">set</text><rect class="f" x="459" y="378.2" width="57" height="5.6" rx="1"/><text class="k" x="460.5" y="382.8">global secondFlip2 ▾</text><text x="520" y="382.8">to</text>
<rect class="o" x="533" y="377" width="34" height="8" rx="1.5"/><text x="536" y="382.8">get</text><rect class="f" x="545" y="378.2" width="20" height="5.6" rx="1"/><text class="k" x="546.5" y="382.8">card ▾</text>
<path class="g" d="M447 387H510V447H462V475H510V481H447Z"/>
<text x="450" y="392.8">for each</text><rect class="f" x="471" y="388.2" width="17" height="5.6" rx="1"/><text class="k" x="472.5" y="392.8">card</text><text x="491" y="392.8">in list</text>
<rect class="l" x="510" y="388" width="50" height="58" rx="1.5"/><use href="#gear" x="514" y="389.5"/><text x="522" y="393.5">make a list</text>
<rect class="c" x="560" y="388" width="32" height="7" rx="1.5"/><rect class="f" x="563" y="389" width="26" height="5" rx="1"/><text class="k" x="564" y="393">Button1 ▾</text>
<rect class="c" x="560" y="398" width="32" height="7" rx="1.5"/><rect class="f" x="563" y="399" width="26" height="5" rx="1"/><text class="k" x="564" y="403">Button2 ▾</text>
<rect class="c" x="560" y="408" width="32" height="7" rx="1.5"/><rect class="f" x="563" y="409" width="26" height="5" rx="1"/><text class="k" x="564" y="413">Button3 ▾</text>
<rect class="c" x="560" y="418" width="32" height="7" rx="1.5"/><rect class="f" x="563" y="419" width="26" height="5" rx="1"/><text class="k" x="564" y="423">Button4 ▾</text>
<rect class="c" x="560" y="428" width="32" height="7" rx="1.5"/><rect class="f" x="563" y="429" width="26" height="5" rx="1"/><text class="k" x="564" y="433">Button5 ▾</text>
<rect class="c" x="560" y="438" width="32" height="7" rx="1.5"/><rect class="f" x="563" y="439" width="26" height="5" rx="1"/><text class="k" x="564" y="443">Button6 ▾</text>
<text x="451" y="453">do</text>
<rect class="d" x="462" y="448" width="66" height="27" rx="1.5"/>
<text x="465" y="453.8">set Button.</text><rect class="f" x="494" y="449.3" width="31" height="5.6" rx="1"/><text class="k" x="495.5" y="453.8">Enabled ▾</text>
<text class="e" x="527" y="463.5">of component</text>
<rect class="o" x="530" y="457.5" width="35" height="8" rx="1.5"/><text x="533" y="463.3">get</text><rect class="f" x="542" y="458.7" width="21" height="5.6" rx="1"/><text class="k" x="543.5" y="463.3">card ▾</text>
<text class="e" x="526" y="473">to</text>
<rect class="n" x="528" y="467" width="25" height="8" rx="1.5"/><rect class="f" x="530.5" y="468.2" width="20" height="5.6" rx="1"/><text class="k" x="532" y="472.7">false ▾</text>
<rect class="d" x="447" y="482" width="103" height="8" rx="1.5"/>
<text x="450" y="487.8">set</text><rect class="f" x="460" y="483.2" width="22" height="5.6" rx="1"/><text class="k" x="461.5" y="487.8">Clock1 ▾</text><text x="484" y="487.8">.</text>
<rect class="f" x="489" y="483.2" width="49" height="5.6" rx="1"/><text class="k" x="490.5" y="487.8">TimerEnabled ▾</text><text x="541" y="487.8">to</text>
<rect class="n" x="550" y="482" width="25" height="8" rx="1.5"/><rect class="f" x="552.5" y="483.2" width="20" height="5.6" rx="1"/><text class="k" x="554" y="487.8">true ▾</text>
<path class="g" d="M428 497H457V510H447V550H458V555H428Z"/>
<use href="#gear" x="431.5" y="499"/><text x="440" y="504.8">if</text>
<rect class="m" x="457" y="497" width="113" height="13" rx="1.5"/>
<rect class="o" x="463" y="499.5" width="72" height="8" rx="1.5"/><text x="466" y="505.3">get</text><rect class="f" x="475" y="500.7" width="58" height="5.6" rx="1"/><text class="k" x="476.5" y="505.3">global flippedPairs ▾</text>
<rect class="f" x="538" y="500.7" width="12" height="5.6" rx="1"/><text class="k" x="539.5" y="505.3">= ▾</text>
<rect class="m" x="555" y="499.5" width="12" height="8" rx="1.5"/><rect class="f" x="557" y="500.7" width="8" height="5.6" rx="1"/><text class="k" x="559.5" y="505.3">3</text>
<text x="431" y="518">then</text>
<rect class="p" x="447" y="512" width="110" height="38" rx="1.5"/>
<text x="451" y="518">call</text><rect class="f" x="461" y="513.4" width="31" height="5.6" rx="1"/><text class="k" x="462.5" y="518">Notifier1 ▾</text><text x="495" y="518">.ShowMessageDialog</text>
<text class="e" x="551" y="527">message</text><text class="e" x="551" y="537">title</text><text class="e" x="551" y="547">buttonText</text>
<rect class="t" x="557" y="520.5" width="83" height="8" rx="1.5"/><text x="558.5" y="526.3">“</text><rect class="f" x="563" y="521.7" width="71" height="5.6" rx="1"/><text class="k" x="564.5" y="526.3">Parabéns passaste o jogo</text><text x="635.5" y="526.3">”</text>
<rect class="t" x="557" y="530.5" width="23" height="8" rx="1.5"/><text x="558.5" y="536.3">“</text><rect class="f" x="563" y="531.7" width="11" height="5.6" rx="1"/><text class="k" x="564.5" y="536.3">:D</text><text x="575.5" y="536.3">”</text>
<rect class="t" x="557" y="540.5" width="26" height="8" rx="1.5"/><text x="558.5" y="546.3">“</text><rect class="f" x="563" y="541.7" width="14" height="5.6" rx="1"/><text class="k" x="564.5" y="546.3">OK</text><text x="578.5" y="546.3">”</text>
</g>
</svg>
